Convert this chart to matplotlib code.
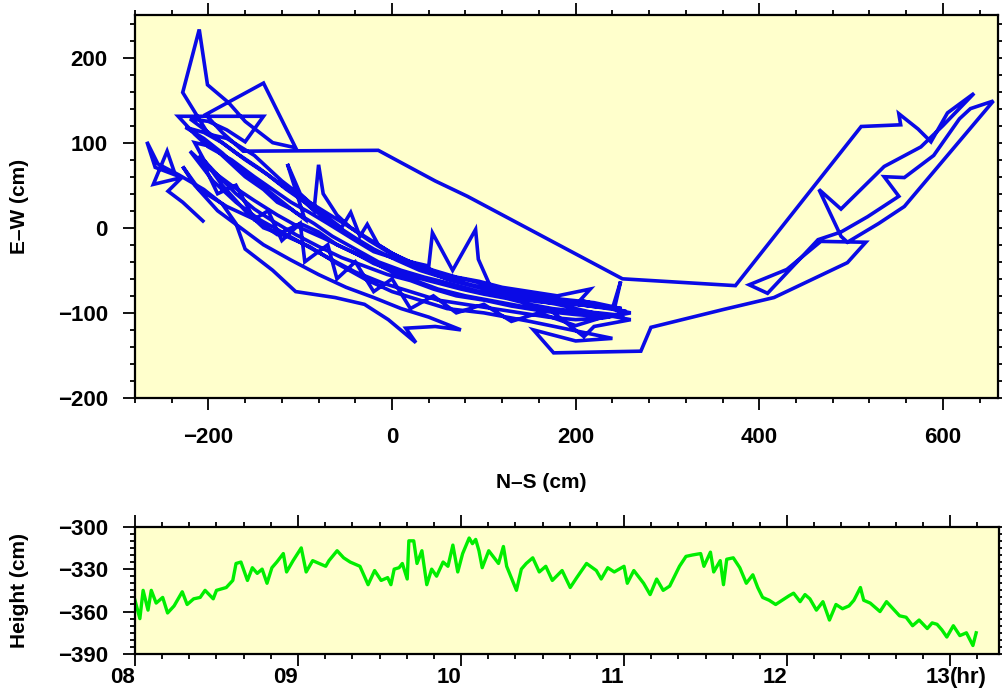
# # 0. import external modules
import matplotlib
matplotlib.use('Agg')
import matplotlib.pyplot as plt
from matplotlib.ticker import MultipleLocator, FixedLocator

# # 1. data
# ====================
# horizontal track of the buoy (cm)
ns_cm = [-206, -228, -244, -229, -260, -245, -236, -258, -267, -255,
         -232, -205, -185, -170, -160, -130, -105, -62, -30, -4,
         26, 15, 47, 75, 40, 10, -20, -50, -80, -110,
         -140, -165, -190, -215, -228, -210, -180, -150, -125, -100,
         -80, -60, -40, -20, 0, 25, 50, 75, 100, 125,
         150, 175, 200, 225, 250, 245, 215, 190, 160, 130,
         110, 94, 91, 66, 44, 40, 20, 0, -20, -40,
         -55, -70, -90, -110, -130, -150, -175, -200, -215, -233,
         -140, -160, -180, -200, -220, -195, -170, -145, -120, -100,
         -85, -80, -75, -60, -45, -25, -5, 20, 45, 70,
         95, 120, 150, 180, 216, 205, 240, 249, 242, 260,
         230, 200, 170, 140, 110, 80, 50, 20, -10, -40,
         -70, -95, -120, -145, -170, -195, -220, -200, -175, -150,
         -125, -100, -75, -50, -25, 0, 25, 50, 80, 110,
         140, 170, 209, 220, 250, 260, 220, 180, 140, 100,
         60, 30, 0, -30, -60, -90, -120, -150, -180, -200,
         -228, -210, -201, -178, -160, -130, -105, -140, -203, -185,
         -162, -15, 47, 82, 251, 374, 511, 554, 552, 573,
         587, 605, 634, 600, 576, 536, 489, 465, 489, 496,
         530, 558, 655, 630, 618, 590, 558, 536, 552, 518,
         489, 464, 409, 389, 430, 467, 516, 496, 416, 361,
         282, 271, 176, 154, 200, 240, 150, 100, 60, 30,
         0, -30, -60, -90, -115, -140, -160, -185, -205, -215,
         -195, -175, -160, -140, -125, -110, -95, -114, -100, -85,
         -70, -55, -45, -35, -27, -15, 0, 15, 30, 55,
         85, 115, 150, 185, 220, 250, 230, 195, 160, 125,
         95, 65, 35, 10, -15, -40, -65, -85, -105, -125,
         -145, -165, -185, -205, -225, -205, -185, -160, -135, -115,
         -95, -78, -60, -40, -20, 5, 30, 60, 90, 120,
         155, 190, 255, 235, 200, 165, 130, 100, 70, 45,
         20, -5, -30, -55, -80, -105, -130, -150, -170, -190,
         -210, -190, -170, -150, -135, -120, -100, -95, -70, -60,
         -40, -20, 0, 20, 45, 70, 100, 130, 160, 200,
         230]
ew_cm = [8, 30, 43, 59, 51, 90, 62, 71, 101, 75,
         62, 45, 28, 5, -25, -50, -75, -82, -90, -108,
         -135, -118, -116, -120, -105, -95, -82, -70, -55, -38,
         -20, 0, 20, 50, 72, 45, 25, 10, -8, 5,
         -5, -20, -30, -42, -50, -58, -65, -72, -78, -83,
         -90, -95, -98, -100, -103, -95, -92, -88, -85, -80,
         -76, -37, -2, -50, -6, -45, -40, -35, -28, -15,
         -5, 5, 18, 30, 45, 60, 80, 95, 110, 131,
         131, 101, 115, 125, 128, 108, 88, 70, 50, 35,
         20, 74, 40, 15, 0, -15, -28, -40, -50, -58,
         -63, -70, -75, -80, -72, -85, -95, -63, -96, -100,
         -106, -108, -105, -100, -95, -90, -85, -75, -65, -52,
         -35, -20, -5, 10, 30, 55, 90, 70, 50, 32,
         15, 0, -12, -25, -38, -52, -62, -72, -80, -86,
         -92, -95, -128, -116, -110, -108, -100, -90, -82, -72,
         -60, -48, -30, -10, 10, 30, 55, 85, 105, 110,
         159, 233, 168, 147, 125, 100, 94, 170, 133, 112,
         90, 91, 55, 37, -60, -68, 119, 121, 134, 116,
         101, 135, 158, 120, 95, 72, 22, 45, -10, -17,
         5, 25, 149, 140, 128, 85, 59, 60, 37, 13,
         -5, -14, -77, -67, -49, -16, -17, -41, -82, -96,
         -117, -145, -147, -120, -133, -130, -110, -100, -95, -85,
         -75, -60, -42, -22, -10, 0, 20, 50, 80, 100,
         95, 75, 60, 45, 30, 22, 10, 75, 40, 25,
         12, 0, 18, -10, 4, -20, -30, -38, -45, -55,
         -62, -70, -78, -84, -88, -95, -92, -90, -87, -82,
         -75, -66, -58, -50, -40, -25, -10, 5, 18, 35,
         52, 68, 88, 105, 118, 112, 100, 80, 62, 45,
         30, 15, 2, -12, -25, -38, -50, -60, -68, -74,
         -80, -88, -98, -105, -102, -98, -92, -85, -80, -72,
         -62, -55, -45, -35, -22, -8, 8, 22, 40, 62,
         85, 40, 50, 10, 20, -15, 5, -40, -20, -60,
         -40, -75, -60, -95, -80, -100, -90, -110, -100, -115,
         -105]

# vertical component against time of day
hour = [8.00, 8.03, 8.05, 8.08, 8.10, 8.13, 8.17, 8.20, 8.24, 8.29,
        8.32, 8.36, 8.40, 8.43, 8.48, 8.50, 8.56, 8.60, 8.62, 8.65,
        8.69, 8.72, 8.75, 8.78, 8.81, 8.84, 8.87, 8.91, 8.93, 8.97,
        9.02, 9.05, 9.09, 9.13, 9.17, 9.19, 9.24, 9.28, 9.32, 9.38,
        9.43, 9.47, 9.51, 9.55, 9.57, 9.59, 9.62, 9.64, 9.67, 9.68,
        9.71, 9.73, 9.76, 9.79, 9.82, 9.85, 9.89, 9.92, 9.95, 9.98,
        10.01, 10.05, 10.07, 10.09, 10.11, 10.13, 10.17, 10.23, 10.26, 10.28,
        10.34, 10.37, 10.40, 10.44, 10.48, 10.52, 10.56, 10.62, 10.67, 10.71,
        10.77, 10.83, 10.86, 10.90, 10.94, 11.00, 11.02, 11.06, 11.12, 11.16,
        11.20, 11.24, 11.28, 11.34, 11.38, 11.42, 11.47, 11.49, 11.53, 11.55,
        11.59, 11.61, 11.63, 11.67, 11.71, 11.75, 11.79, 11.82, 11.85, 11.89,
        11.93, 11.97, 12.01, 12.04, 12.08, 12.11, 12.14, 12.18, 12.22, 12.26,
        12.30, 12.34, 12.38, 12.41, 12.45, 12.47, 12.51, 12.54, 12.57, 12.61,
        12.65, 12.69, 12.73, 12.77, 12.81, 12.86, 12.89, 12.92, 12.95, 12.98,
        13.02, 13.06, 13.10, 13.14, 13.16]
height_cm = [-352, -365, -345, -359, -345, -354, -350, -361, -356, -346,
             -355, -351, -350, -345, -351, -345, -343, -338, -326, -325,
             -338, -329, -333, -330, -340, -329, -325, -319, -332, -324,
             -315, -332, -324, -326, -328, -324, -317, -322, -325, -328,
             -341, -331, -338, -336, -341, -330, -329, -326, -337, -310,
             -310, -326, -317, -341, -330, -335, -325, -328, -313, -332,
             -319, -308, -312, -309, -317, -329, -317, -326, -314, -328,
             -345, -330, -326, -322, -332, -328, -338, -331, -343, -336,
             -326, -331, -337, -329, -332, -328, -340, -331, -340, -348,
             -337, -345, -342, -328, -321, -320, -319, -328, -318, -332,
             -324, -341, -323, -322, -329, -340, -334, -343, -350, -352,
             -355, -352, -349, -347, -353, -348, -351, -359, -353, -366,
             -355, -358, -356, -352, -343, -352, -354, -357, -360, -353,
             -358, -363, -364, -370, -366, -372, -368, -369, -373, -378,
             -370, -377, -375, -384, -375]

hour_ticks = [8, 9, 10, 11, 12, 13]
hour_labels = ['08', '09', '10', '11', '12', '13']

# # 2. canvas and style
# ====================
plt.rcParams['font.family'] = ['Liberation Sans', 'DejaVu Sans']
plt.rcParams['font.weight'] = 'bold'
bg = '#FFFFCC'
fig = plt.figure(figsize=(10.02, 6.92), dpi=100)
ax1 = fig.add_axes([0.1347, 0.4249, 0.8613, 0.5534], facecolor=bg)
ax2 = fig.add_axes([0.1347, 0.0549, 0.8623, 0.1840], facecolor=bg)


def gmt_frame(ax, xpad, ypad):
    for s in ax.spines.values():
        s.set_linewidth(1.6)
    ax.tick_params(which='both', direction='out', width=1.3,
                   top=True, right=True, labelsize=16)
    ax.tick_params(which='major', length=8.6)
    ax.tick_params(which='minor', length=3.6)
    ax.tick_params(axis='x', pad=xpad)
    ax.tick_params(axis='y', pad=ypad)
    for lab in ax.get_xticklabels() + ax.get_yticklabels():
        lab.set_fontweight('bold')


# # 3. horizontal track
# ====================
ax1.plot(ns_cm, ew_cm, color='#0A0AE6', lw=2.6, solid_joinstyle='miter')
ax1.set_xlim(-280, 660)
ax1.set_ylim(-200, 250)
ax1.xaxis.set_major_locator(FixedLocator([-200, 0, 200, 400, 600]))
ax1.xaxis.set_minor_locator(MultipleLocator(40))
ax1.yaxis.set_major_locator(FixedLocator([-200, -100, 0, 100, 200]))
ax1.yaxis.set_minor_locator(MultipleLocator(20))
ax1.set_xticklabels(['\u2212200', '0', '200', '400', '600'])
ax1.set_yticklabels(['\u2212200', '\u2212100', '0', '100', '200'])
gmt_frame(ax1, 12, 11)

# # 4. height series
# ====================
ax2.plot(hour, height_cm, color='#00EE00', lw=2.4)
ax2.set_xlim(8, 13.3)
ax2.set_ylim(-390, -300)
ax2.xaxis.set_major_locator(FixedLocator(hour_ticks))
ax2.xaxis.set_minor_locator(MultipleLocator(1 / 6))
ax2.yaxis.set_major_locator(FixedLocator([-390, -360, -330, -300]))
ax2.yaxis.set_minor_locator(MultipleLocator(5))
ax2.set_yticklabels(['\u2212390', '\u2212360', '\u2212330', '\u2212300'])
ax2.set_xticklabels(hour_labels, ha='right')
gmt_frame(ax2, 1, 11)
ax2.annotate('(hr)', xy=(13, 0), xycoords=('data', 'axes fraction'),
             xytext=(0, -9.6), textcoords='offset points',
             ha='left', va='top', fontsize=16, fontweight='bold')

# # 5. axis titles
# ====================
fig.text(20 / 1002, 1 - 206 / 692, 'E\u2013W (cm)', rotation=90,
         ha='center', va='center', fontsize=15, fontweight='bold')
fig.text(541 / 1002, 1 - 482 / 692, 'N\u2013S (cm)',
         ha='center', va='center', fontsize=15, fontweight='bold')
fig.text(20 / 1002, 1 - 590 / 692, 'Height (cm)', rotation=90,
         ha='center', va='center', fontsize=15, fontweight='bold')

fig.savefig('out.png', dpi=100)
